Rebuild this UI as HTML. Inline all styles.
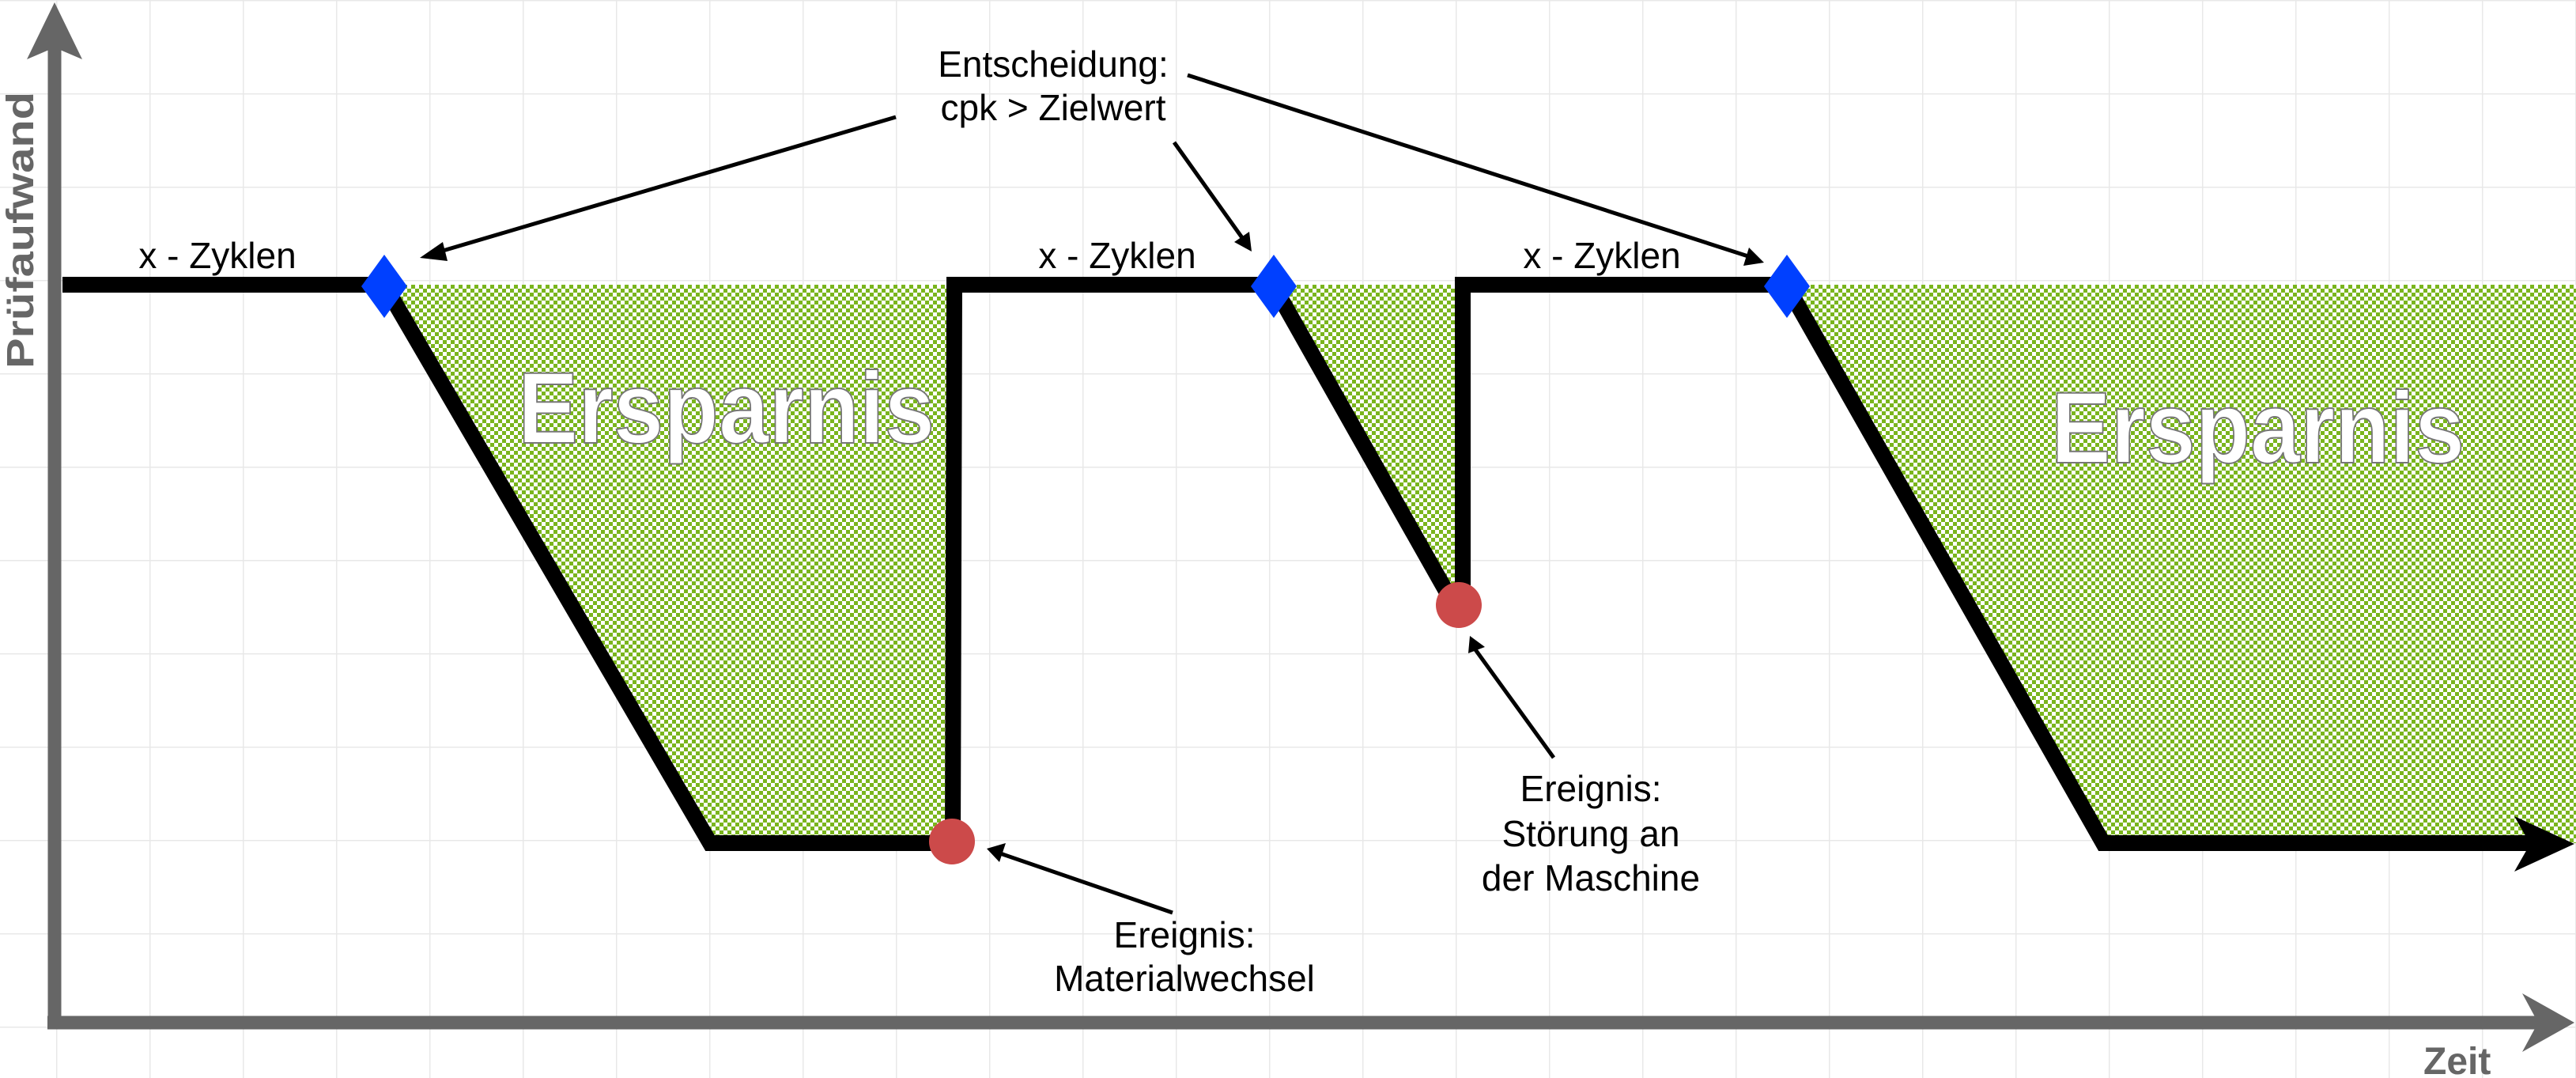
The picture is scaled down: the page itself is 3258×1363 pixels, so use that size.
<!DOCTYPE html>
<html><head><meta charset="utf-8"><style>
html,body{margin:0;padding:0;background:#fff;}
svg{display:block;}
text{font-family:"Liberation Sans",sans-serif;}
</style></head><body>
<svg width="3258" height="1363" viewBox="0 0 3258 1363" xmlns="http://www.w3.org/2000/svg">
<defs>
<pattern id="chk" width="10" height="10" patternUnits="userSpaceOnUse">
<rect width="10" height="10" fill="#fff"/>
<rect width="5" height="5" fill="#7ab51d"/>
<rect x="5" y="5" width="5" height="5" fill="#7ab51d"/>
</pattern>
<pattern id="grid" width="118" height="118" patternUnits="userSpaceOnUse" x="71" y="0">
<path d="M0 0V118M0 0H118" stroke="#e8e8e8" stroke-width="3" fill="none"/>
</pattern>
</defs>
<rect width="3258" height="1363" fill="url(#grid)"/>
<polygon points="486,360 898,1066 1205,1066 1205,360" fill="url(#chk)"/>
<polygon points="1610,360 1839,765 1850,765 1850,360" fill="url(#chk)"/>
<polygon points="2259,360 2660,1066 3258,1066 3258,360" fill="url(#chk)"/>
<text x="655" y="560" font-size="128" font-weight="bold" fill="#fff" stroke="#777" stroke-width="2" textLength="527" lengthAdjust="spacingAndGlyphs">Ersparnis</text>
<text x="2594" y="585" font-size="128" font-weight="bold" fill="#fff" stroke="#777" stroke-width="2" textLength="523" lengthAdjust="spacingAndGlyphs">Ersparnis</text>
<polyline points="79,360 486,360 898,1066 1205,1066 1207,360 1610,360 1839,765 1850,765 1850,360 2259,360 2660,1066 3215,1066" fill="none" stroke="#000" stroke-width="20" stroke-linejoin="miter"/>
<polygon points="3180,1032 3256,1067 3180,1102 3200,1067" fill="#000"/>
<line x1="69" y1="60" x2="69" y2="1300" stroke="#666" stroke-width="17"/>
<polygon points="34,75 69,3 104,75 69,60" fill="#666"/>
<line x1="60" y1="1293" x2="3220" y2="1293" stroke="#666" stroke-width="17"/>
<polygon points="3190,1256 3256,1293 3190,1330 3210,1293" fill="#666"/>
<text x="3065" y="1358" font-size="48" font-weight="bold" fill="#666">Zeit</text>
<text transform="translate(42,466) rotate(-90)" font-size="48" font-weight="bold" fill="#666" textLength="350" lengthAdjust="spacingAndGlyphs">Prüfaufwand</text>
<polygon points="486,322 515,362 486,402 457,362" fill="#0040ff"/>
<polygon points="1611,322 1640,362 1611,402 1582,362" fill="#0040ff"/>
<polygon points="2260,322 2289,362 2260,402 2231,362" fill="#0040ff"/>
<circle cx="1204" cy="1064" r="29" fill="#cc4a4a"/>
<circle cx="1845" cy="765" r="29" fill="#cc4a4a"/>
<g font-size="46" fill="#000" text-anchor="middle">
<text x="275" y="339">x - Zyklen</text>
<text x="1413" y="339">x - Zyklen</text>
<text x="2026" y="339">x - Zyklen</text>
<text x="1332" y="97">Entscheidung:</text>
<text x="1332" y="152">cpk &gt; Zielwert</text>
<text x="1498" y="1198">Ereignis:</text>
<text x="1498" y="1253">Materialwechsel</text>
<text x="2012" y="1013">Ereignis:</text>
<text x="2012" y="1070">Störung an</text>
<text x="2012" y="1126">der Maschine</text>
</g>
<g stroke="#000" stroke-width="5" fill="none">
<line x1="1133" y1="148" x2="550" y2="320"/>
<line x1="1485" y1="180" x2="1572" y2="302"/>
<line x1="1502" y1="95" x2="2214" y2="325"/>
<line x1="1483" y1="1154" x2="1265" y2="1079"/>
<line x1="1965" y1="958" x2="1865" y2="820"/>
</g>
<g fill="#000">
<polygon points="531,326 560,306 566,330"/>
<polygon points="1583,318 1561,306 1580,293"/>
<polygon points="2231,332 2205,336 2212,313"/>
<polygon points="1248,1073 1272,1066 1264,1090"/>
<polygon points="1859,804 1878,818 1857,826"/>
</g>
</svg>
</body></html>
